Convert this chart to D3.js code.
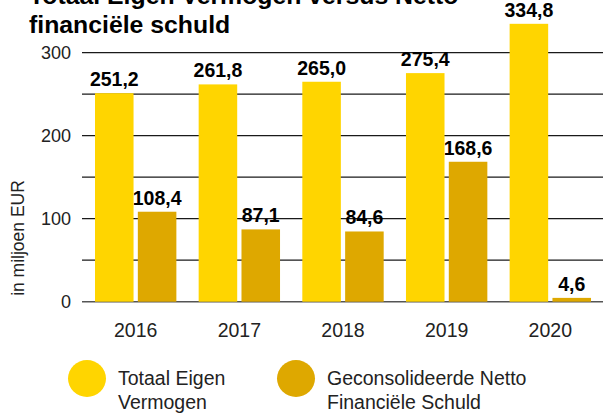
<!DOCTYPE html>
<html><head><meta charset="utf-8">
<script src="https://cdn.jsdelivr.net/npm/d3@7"></script>
<style>html,body{margin:0;padding:0;background:#fff;}svg{display:block;font-family:"Liberation Sans",Arial,sans-serif;}</style>
</head><body>
<svg id="c" width="603" height="414"></svg>
<script>
const years = ["2016","2017","2018","2019","2020"];
const eigenVermogen = [251.2, 261.8, 265.0, 275.4, 334.8];
const nettoSchuld = [108.4, 87.1, 84.6, 168.6, 4.6];
const seriesNames = ["Totaal Eigen Vermogen", "Geconsolideerde Netto Financiële Schuld"];
const legendLines = [["Totaal Eigen","Vermogen"],["Geconsolideerde Netto","Financiële Schuld"]];
const yTicks = [0,50,100,150,200,250,300];
const yTickLabels = ["0","","100","","200","","300"];
const titleLines = ["Totaal Eigen Vermogen versus Netto","financiële schuld"];
const yTitle = "in miljoen EUR";
const colors = ["#FFD500","#DEA800"];

const svg = d3.select("#c");
const x = d3.scaleBand().domain(years).range([95,591]).paddingInner(0.215).paddingOuter(0);
const xs = d3.scaleBand().domain([0,1]).range([0,x.bandwidth()]).paddingInner(0.1);
const y = d3.scaleLinear().domain([0,300]).range([301.7,52.7]);

// gridlines
svg.append("g").selectAll("line").data(yTicks).join("line")
  .attr("x1",82).attr("x2",603)
  .attr("y1",d=>y(d)).attr("y2",d=>y(d))
  .attr("stroke",d=>d===0?"#555":"#1a1a1a").attr("stroke-width",d=>d===0?1.6:1.3);

// y tick labels
svg.append("g").selectAll("text").data(yTicks).join("text")
  .attr("x",71).attr("y",d=>y(d)).attr("dy","0.36em")
  .attr("text-anchor","end").attr("font-size",18).attr("fill","#222")
  .text((d,i)=>yTickLabels[i]);

// y title
svg.append("text").attr("transform","translate(23.5,238) rotate(-90)")
  .attr("text-anchor","middle").attr("font-size",17.5).attr("fill","#222").text(yTitle);

// bars
const data = years.map((yr,i)=>({yr, vals:[eigenVermogen[i], nettoSchuld[i]]}));
const groups = svg.append("g").selectAll("g").data(data).join("g")
  .attr("transform",d=>`translate(${x(d.yr)},0)`);
groups.selectAll("rect").data(d=>d.vals.map((v,k)=>({v,k}))).join("rect")
  .attr("x",d=>xs(d.k)).attr("width",xs.bandwidth())
  .attr("y",d=>y(d.v)).attr("height",d=>y(0)-y(d.v))
  .attr("fill",d=>colors[d.k]);
groups.selectAll("text.val").data(d=>d.vals.map((v,k)=>({v,k}))).join("text")
  .attr("class","val")
  .attr("x",d=>xs(d.k)+xs.bandwidth()/2).attr("y",d=>y(d.v)-7)
  .attr("text-anchor","middle").attr("font-size",19.5).attr("font-weight","bold").attr("fill","#000")
  .text(d=>d.v.toFixed(1).replace(".",","));

// x labels
svg.append("g").selectAll("text").data(years).join("text")
  .attr("x",d=>x(d)+x.bandwidth()/2).attr("y",336.5)
  .attr("text-anchor","middle").attr("font-size",19.5).attr("fill","#222").text(d=>d);

// title
svg.append("g").selectAll("text").data(titleLines).join("text")
  .attr("x",29).attr("y",(d,i)=>4+i*29)
  .attr("font-size",24.8).attr("font-weight","bold").attr("fill","#000").text(d=>d);

// legend
const legX = [87,296];
const leg = svg.append("g").selectAll("g").data(seriesNames).join("g");
leg.append("ellipse").attr("cx",(d,i)=>legX[i]).attr("cy",378.5).attr("rx",19).attr("ry",18.5)
  .attr("fill",(d,i)=>colors[i]);
leg.each(function(d,i){
  d3.select(this).selectAll("text").data(legendLines[i]).join("text")
    .attr("x",legX[i]+31).attr("y",(t,j)=>385+j*24)
    .attr("font-size",19.5).attr("fill","#222").text(t=>t);
});
</script>
</body></html>
